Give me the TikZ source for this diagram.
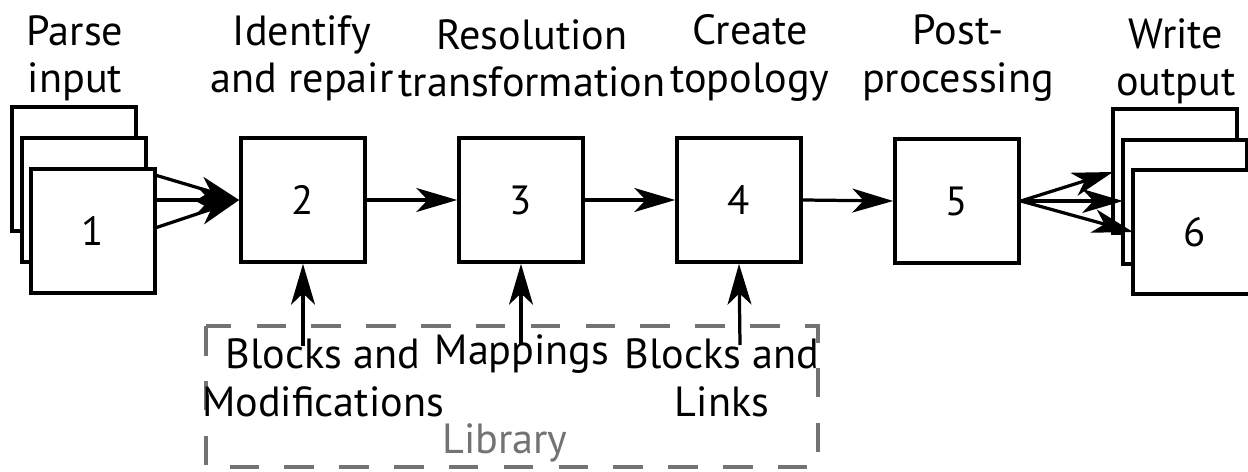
\documentclass[tikz,border=0pt]{standalone}
\usepackage{fontspec}
\setmainfont{PT Sans}
\usetikzlibrary{arrows.meta,calc}
\begin{document}
\begin{tikzpicture}[x=0.025cm,y=-0.025cm,
  box/.style={draw,line width=2.6pt,fill=white,minimum width=3.1cm,minimum height=3.1cm,inner sep=0pt,font=\fontsize{29}{33}\selectfont},
  conn/.style={line width=2.3pt,-{Stealth[length=29pt,width=17pt,inset=8pt]}},
  title/.style={align=center,font=\fontsize{30}{33.5}\selectfont},
  lib/.style={align=center,font=\fontsize{30}{34.5}\selectfont},
  libbox/.style={draw=black!55,line width=2.2pt,dash pattern=on 21pt off 18pt}]
\useasboundingbox (0,0) rectangle (1248,472);
% left stack
\node[box] (b1a) at (74,169) {};
\node[box] (b1b) at (84,200) {};
\node[box] (b1) at (93,231) {1};
% process boxes
\node[box] (b2) at (303,200) {2};
\node[box] (b3) at (521,200) {3};
\node[box] (b4) at (739,200) {4};
\node[box] (b5) at (957,201) {5};
% right stack
\node[box] (b6a) at (1175,171) {};
\node[box] (b6b) at (1185,202) {};
\node[box] (b6) at (1195,232) {6};
% titles
\node[title] (t1) at (75,58) {Parse\\input};
\node[title] (t2) at (302,58) {Identify\\and repair};
\node[title] (t3) at (532,58) {Resolution\\transformation};
\node[title] (t4) at (750,58) {Create\\topology};
\node[title] (t5) at (958,58) {Post-\\processing};
\node[title] (t6) at (1176,61) {Write\\output};
% library
\draw[libbox] (206,326) rectangle (818,467);
\node[lib] (lbm) at (323,378) {Blocks and\\Modifications};
\node[lib,anchor=center] (lm) at (522,354) {Mappings};
\node[lib] (lbl) at (722,378) {Blocks and\\Links};
\node[font=\fontsize{30}{34}\selectfont,text=black!55] (llib) at (505,443) {Library};
% connectors
\coordinate (c1) at (155,175);
\coordinate (c2) at (155,200);
\coordinate (c3) at (155,228);
\draw[conn] (c1) -- (b2.west);
\draw[conn] (c2) -- (b2.west);
\draw[conn] (c3) -- (b2.west);
\draw[conn] (b2.east) -- (b3.west);
\draw[conn] (b3.east) -- (b4.west);
\draw[conn] (b4.east) -- (b5.west);
\coordinate (e1) at (1113,172);
\coordinate (e2) at (1123,201);
\coordinate (e3) at (1133,232);
\draw[conn] (b5.east) -- (e1);
\draw[conn] (b5.east) -- (e2);
\draw[conn] (b5.east) -- (e3);
\coordinate (u2) at (303,346);
\coordinate (u3) at (521,345);
\coordinate (u4) at (740,345);
\draw[conn] (u2) -- (b2.south);
\draw[conn] (u3) -- (b3.south);
\draw[conn] (u4) -- (b4.south);
\end{tikzpicture}
\end{document}
